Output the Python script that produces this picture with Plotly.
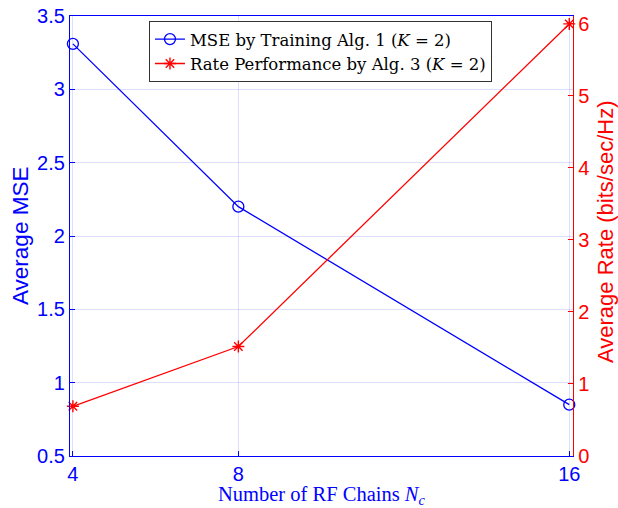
import plotly.graph_objects as go

# RF chain counts and the two performance series
rf_chains = [4, 8, 16]
avg_mse = [3.31, 2.20, 0.85]
avg_rate = [0.69, 1.52, 6.0]

mse_ticks = [0.5, 1, 1.5, 2, 2.5, 3, 3.5]
rate_ticks = [0, 1, 2, 3, 4, 5, 6]

BLUE = "#0000ff"
RED = "#ff0000"
GRID = "rgba(0,0,255,0.13)"
SANS = "Liberation Sans, Arial, sans-serif"
SERIF = "Liberation Serif, DejaVu Serif, serif"

W, H = 618, 508
ML, MR, MT, MB = 70, 45, 16, 52
PW, PH = W - ML - MR, H - MT - MB

fig = go.Figure()

fig.add_trace(go.Scatter(
    x=rf_chains, y=avg_mse, mode="lines+markers",
    name="MSE by Training Alg. 1 (<i>K</i> = 2)",
    line=dict(color=BLUE, width=1.3),
    marker=dict(symbol="circle-open", size=11, color=BLUE, line=dict(width=1.3)),
    yaxis="y", cliponaxis=False,
))
fig.add_trace(go.Scatter(
    x=rf_chains, y=avg_rate, mode="lines+markers",
    name="Rate Performance by Alg. 3 (<i>K</i> = 2)",
    line=dict(color=RED, width=1.3),
    marker=dict(symbol="asterisk-open", size=10, color=RED, line=dict(width=1.4, color=RED)),
    yaxis="y2", cliponaxis=False,
))

fig.update_layout(
    width=W, height=H,
    margin=dict(l=ML, r=MR, t=MT, b=MB),
    paper_bgcolor="white", plot_bgcolor="white",
    showlegend=True,
    legend=dict(
        x=0.157, y=0.989, xanchor="left", yanchor="top",
        bgcolor="white", bordercolor="#333333", borderwidth=1,
        font=dict(family="DejaVu Serif, serif", size=16.5, color="black"),
        itemwidth=30, tracegroupgap=0,
    ),
    xaxis=dict(
        range=[3.93, 16.09], tickvals=rf_chains, ticktext=[str(v) for v in rf_chains],
        showline=True, linecolor=BLUE, linewidth=1.3, mirror=True,
        ticks="inside", ticklen=5, tickcolor=BLUE,
        showgrid=True, gridcolor=GRID, gridwidth=1, zeroline=False,
        tickfont=dict(family=SANS, size=20, color=BLUE),
        automargin=False,
    ),
    yaxis=dict(
        range=[0.5, 3.5], tickvals=mse_ticks,
        ticktext=["0.5", "1", "1.5", "2", "2.5", "3", "3.5"],
        showline=True, linecolor=BLUE, linewidth=1.3,
        ticks="inside", ticklen=5, tickcolor=BLUE,
        showgrid=True, gridcolor=GRID, gridwidth=1, zeroline=False,
        tickfont=dict(family=SANS, size=20, color=BLUE),
        automargin=False,
    ),
    yaxis2=dict(
        range=[0, 6.11], tickvals=rate_ticks,
        overlaying="y", side="right",
        showline=True, linecolor=RED, linewidth=1.3,
        ticks="inside", ticklen=5, tickcolor=RED,
        showgrid=False, zeroline=False,
        tickfont=dict(family=SANS, size=20, color=RED),
        automargin=False,
    ),
)

# axis titles placed as paper-anchored annotations
fig.add_annotation(
    text="Number of RF Chains <i>N</i><sub><i>c</i></sub>",
    xref="paper", yref="paper", x=0.5, y=-(496 - (H - MB)) / PH,
    xanchor="center", yanchor="middle",
    showarrow=False, font=dict(family=SERIF, size=20.5, color=BLUE),
)
fig.add_annotation(
    text="Average MSE", textangle=-90,
    xref="paper", yref="paper", x=(20 - ML) / PW, y=0.5,
    xanchor="center", yanchor="middle",
    showarrow=False, font=dict(family=SANS, size=22.5, color=BLUE),
)
fig.add_annotation(
    text="Average Rate (bits/sec/Hz)", textangle=-90,
    xref="paper", yref="paper", x=(605 - ML) / PW, y=((H - MB) - 232) / PH,
    xanchor="center", yanchor="middle",
    showarrow=False, font=dict(family=SANS, size=22, color=RED),
)

fig.write_html("out.html")
